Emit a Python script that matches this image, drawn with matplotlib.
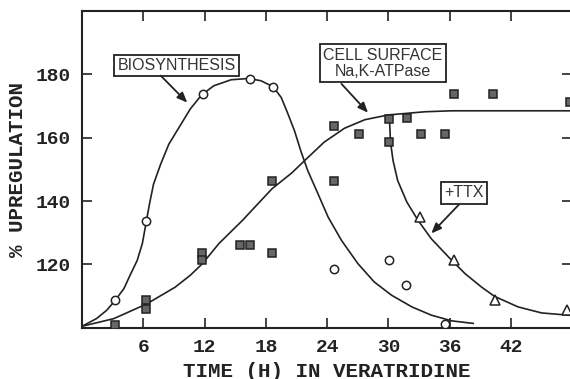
import matplotlib
matplotlib.use('Agg')
import matplotlib.pyplot as plt

# measured points (hours, % upregulation)
bio_t = [3.2, 6.3, 11.8, 16.4, 18.7, 24.7, 30.1, 31.7, 35.5]
bio_v = [108.7, 133.6, 173.8, 178.5, 176.1, 118.7, 121.3, 113.6, 101.1]

surf_t = [3.2, 6.3, 6.3, 11.7, 11.7, 15.5, 16.4, 18.6, 18.6, 24.7, 24.7,
          27.1, 30.1, 30.1, 31.8, 33.2, 35.5, 36.4, 40.2, 47.8]
surf_v = [101.0, 108.7, 106.1, 123.7, 121.3, 126.2, 126.2, 123.7, 146.2, 146.2, 163.6,
          161.2, 165.9, 158.8, 166.1, 161.2, 161.2, 173.8, 173.8, 171.2]

ttx_t = [33.1, 36.4, 40.4, 47.5]
ttx_v = [134.9, 121.5, 108.7, 105.5]

# fitted curves
bio_fit_t = [0.0, 1.4, 2.4, 3.2, 4.1, 4.7, 5.4, 5.9, 6.3, 6.6, 7.0, 7.7, 8.5, 9.6, 10.6,
             11.7, 12.9, 14.6, 16.3, 17.5, 18.7, 19.5, 20.1, 20.8, 21.4, 22.1, 23.1, 24.1,
             25.4, 27.0, 28.6, 30.3, 32.3, 34.2, 36.2, 38.3]
bio_fit_v = [100.5, 102.9, 105.5, 108.5, 112.4, 116.6, 121.3, 126.6, 133.7, 139.1, 145.4,
             151.7, 158.0, 163.8, 169.1, 173.5, 176.4, 178.3, 178.7, 178.0, 176.1, 172.7,
             168.0, 162.2, 156.0, 149.6, 142.3, 134.9, 127.6, 120.3, 114.5, 110.3, 106.6,
             104.0, 102.2, 101.4]

surf_fit_t = [0.0, 3.1, 6.3, 9.1, 10.6, 11.8, 13.4, 15.7, 18.6, 20.5, 21.8, 23.7, 25.7,
              27.7, 30.0, 33.6, 36.2, 48.0]
surf_fit_v = [100.5, 102.9, 107.5, 112.8, 116.6, 120.3, 126.6, 133.9, 143.9, 148.8, 152.8,
              158.6, 163.0, 165.7, 167.2, 168.2, 168.5, 168.5]

ttx_fit_t = [30.1, 30.2, 30.45, 30.9, 31.8, 32.9, 34.2, 35.9, 37.5, 39.1, 40.4, 42.7,
             45.0, 47.6, 48.0]
ttx_fit_v = [165.9, 158.6, 152.8, 146.5, 139.7, 133.9, 128.1, 122.3, 117.1, 112.9, 109.9,
             106.6, 104.7, 104.0, 103.9]

x_ticks = [6, 12, 18, 24, 30, 36, 42]
y_ticks = [120, 140, 160, 180]

mono = {'family': 'Liberation Mono', 'weight': 'bold'}
sans = ['Liberation Sans Narrow', 'Liberation Sans', 'DejaVu Sans']

fig = plt.figure(figsize=(5.7, 3.79), dpi=100)
ax = fig.add_axes([0.144, 0.135, 0.86, 0.836])

lw = 1.2
ax.plot(bio_fit_t, bio_fit_v, color='#222222', lw=lw)
ax.plot(surf_fit_t, surf_fit_v, color='#222222', lw=lw)
ax.plot(ttx_fit_t, ttx_fit_v, color='#222222', lw=lw)

ax.plot(bio_t, bio_v, 'o', ms=6, mfc='white', mec='#222222', mew=1.1, ls='none', zorder=3)
ax.plot(surf_t, surf_v, 's', ms=6, mfc='#666666', mec='#222222', mew=1.1, ls='none', zorder=3)
ax.plot(ttx_t, ttx_v, '^', ms=6.5, mfc='white', mec='#222222', mew=1.1, ls='none', zorder=3)

ax.set_xlim(0, 48)
ax.set_ylim(100, 200)
ax.set_xticks(x_ticks)
ax.set_yticks(y_ticks)
ax.tick_params(direction='in', length=7, width=1.2, top=True, right=True,
               labelsize=14, pad=8, colors='#222222')
for lab in ax.get_xticklabels() + ax.get_yticklabels():
    lab.set_fontfamily('Liberation Mono')
    lab.set_fontweight('bold')
for sp in ax.spines.values():
    sp.set_linewidth(1.5)
    sp.set_color('#222222')

ax.set_xlabel('TIME (H) IN VERATRIDINE', fontsize=15, labelpad=4, color='#222222', **mono)
ax.set_ylabel('% UPREGULATION', fontsize=15, labelpad=6, color='#222222', **mono)

box = dict(boxstyle='square,pad=0.2', fc='white', ec='#222222', lw=1.3)
arrow = dict(arrowstyle='-|>,head_length=0.6,head_width=0.25', color='#222222', lw=1.3,
             shrinkA=0, shrinkB=0)

ax.text(9.24, 182.7, 'BIOSYNTHESIS', ha='center', va='center', fontsize=11.5,
        family=sans, color='#333333', bbox=box)
ax.annotate('', xy=(10.3, 171.1), xytext=(7.7, 179.6), arrowprops=arrow)

ax.text(29.45, 183.5, 'CELL SURFACE\nNa,K-ATPase', ha='center', va='center', fontsize=11.5,
        family=sans, color='#333333', bbox=box, linespacing=1.1)
ax.annotate('', xy=(28.0, 167.9), xytext=(25.4, 177.0), arrowprops=arrow)

ax.text(37.4, 142.6, '+TTX', ha='center', va='center', fontsize=11.5,
        family=sans, color='#333333', bbox=box)
ax.annotate('', xy=(34.2, 129.8), xytext=(36.9, 138.9), arrowprops=arrow)

fig.savefig('out.png', dpi=100)
